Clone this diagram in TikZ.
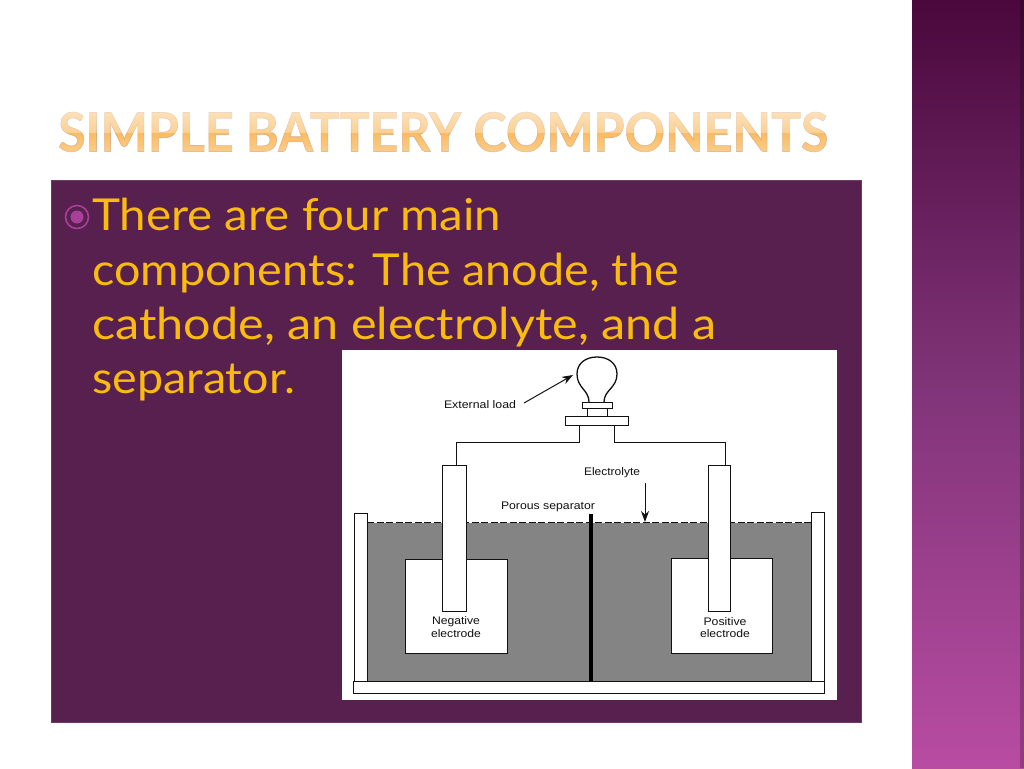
\documentclass[tikz,border=0pt]{standalone}
\usepackage{fontspec}
\usepackage{graphicx}
\usetikzlibrary{fadings,arrows.meta}
\setmainfont{Lato}
\newfontfamily\labelfont{Liberation Sans}
\newfontfamily\titlefont{Lato}
\definecolor{panelc}{HTML}{57204F}
\definecolor{panelb}{HTML}{6E3A68}
\definecolor{bodyc}{HTML}{F9BB0E}
\definecolor{titlec}{HTML}{FBBB60}
\definecolor{bulletc}{HTML}{A8409A}
\definecolor{grayc}{HTML}{848484}
\definecolor{inkc}{HTML}{111111}
\definecolor{sidetop}{HTML}{4A083C}
\definecolor{sidemid}{HTML}{803478}
\definecolor{sidebot}{HTML}{B84CA2}
\newcommand{\fitw}[2]{\resizebox{#1pt}{\height}{#2}}
\tikzfading[name=titletop, top color=transparent!40, bottom color=transparent!68]
\tikzfading[name=titlebot, top color=transparent!100, bottom color=transparent!68]
\tikzset{
  x=1pt,y=-1pt,
  part/.style={draw=inkc,line width=1pt,fill=white,inner sep=0pt,outer sep=0pt,anchor=north west},
  wire/.style={draw=inkc,line width=1pt},
  pointer/.style={draw=inkc,line width=1pt,-{Stealth[length=11pt,width=8pt]}},
  bodyline/.style={anchor=base west,inner sep=0pt,text=bodyc,font=\fontsize{44}{44}\selectfont},
  dlabel/.style={inner sep=0pt,text=inkc,font=\labelfont\fontsize{11}{11}\selectfont},
}
\begin{document}
\begin{tikzpicture}
\useasboundingbox (0,0) rectangle (1024,768);
\fill[white] (0,0) rectangle (1024,768);
% sidebar
\shade[top color=sidetop,bottom color=sidebot,middle color=sidemid] (912,0) rectangle (1024,768);
\fill[black,opacity=.2] (1020,0) rectangle (1024,768);
% title
\node[anchor=base west,inner sep=0pt,text=titlec] (title) at (58,151.5)
  {\fitw{770}{\special{pdf:code 2 Tr 0.6 w 0.84 0.66 0.48 RG}\titlefont\bfseries\fontsize{54}{54}\selectfont SIMPLE BATTERY COMPONENTS\special{pdf:code 0 Tr}}};
\fill[white,path fading=titletop] (50,108) rectangle (840,132.5);
\fill[white,path fading=titlebot] (50,132.5) rectangle (840,156);
% panel
\node[draw=panelb,fill=panelc,line width=0.8pt,inner sep=0pt,outer sep=0pt,anchor=north west,minimum width=810.5pt,minimum height=542.5pt] (panel) at (51,180) {};
% bullet
\node[circle,draw=bulletc,line width=1.6pt,fill=panelc,minimum size=23pt,inner sep=0pt] (bulletring) at (77,217) {};
\node[circle,fill=bulletc,minimum size=13pt,inner sep=0pt] (bulletdot) at (77,217) {};
% body text
\node[bodyline] (l1) at (92,230.5) {\fitw{409}{There are four main}};
\node[bodyline] (l2) at (92,285.5) {\fitw{587}{components: The anode, the}};
\node[bodyline] (l3) at (92,339.5) {\fitw{624}{cathode, an electrolyte, and a}};
\node[bodyline] (l4) at (92,393.5) {\fitw{203}{separator.}};
% figure
\node[fill=white,inner sep=0pt,outer sep=0pt,anchor=north west,minimum width=495pt,minimum height=350pt] (figure) at (342,350) {};
\node[fill=grayc,inner sep=0pt,outer sep=0pt,anchor=north west,minimum width=444pt,minimum height=159pt] (electrolyte) at (367,522) {};
\draw[white,line width=1pt] (electrolyte.north west) -- (electrolyte.north east);
\draw[inkc,line width=1pt,dash pattern=on 7pt off 2.5pt] (electrolyte.north west) -- (electrolyte.north east);
\node[part,minimum width=13pt,minimum height=168pt] (wallL) at (354,513) {};
\node[part,minimum width=13pt,minimum height=169pt] (wallR) at (811,512) {};
\node[part,minimum width=471pt,minimum height=12pt] (tray) at (353,681) {};
\node[fill=black,inner sep=0pt,outer sep=0pt,anchor=north west,minimum width=4pt,minimum height=167pt] (separator) at (589,514) {};
\node[part,minimum width=102pt,minimum height=94pt] (elecL) at (405,559) {};
\node[part,minimum width=101pt,minimum height=95pt] (elecR) at (671,558) {};
\node[part,minimum width=24pt,minimum height=146pt] (rodL) at (442,465) {};
\node[part,minimum width=22pt,minimum height=146pt] (rodR) at (708,465) {};
% bulb
\node[part,minimum width=63pt,minimum height=9pt] (base) at (565,416) {};
\node[part,minimum width=20pt,minimum height=8pt] (socket) at (587,408) {};
\node[part,minimum width=30pt,minimum height=6pt] (collar) at (582,402) {};
\coordinate (bulbL) at (589,402);
\coordinate (bulbR) at (604,402);
\draw[draw=inkc,line width=1.3pt] (bulbL) .. controls (589,390) and (577,388) .. (577,374) .. controls (577,363) and (586,357) .. (597,357) .. controls (608,357) and (617,363) .. (617,374) .. controls (617,388) and (604,390) .. (bulbR);
% wires
\coordinate (wireLs) at (579,425);
\coordinate (wireRs) at (614,425);
\coordinate (jL) at (456,442);
\coordinate (jR) at (725,442);
\draw[wire] (wireLs) |- (jL) -- (jL |- rodL.north);
\draw[wire] (wireRs) |- (jR) -- (jR |- rodR.north);
% labels
\node[dlabel] (lblLoad) at (480,405) {\fitw{72}{External load}};
\node[dlabel] (lblElec) at (612,473) {\fitw{56}{Electrolyte}};
\node[dlabel] (lblSep) at (548,507) {\fitw{94}{Porous separator}};
\node[dlabel] (lblN1) at (456,622) {\fitw{48}{Negative}};
\node[dlabel] (lblN2) at (456,634) {\fitw{50}{electrode}};
\node[dlabel] (lblP1) at (725,622) {\fitw{43}{Positive}};
\node[dlabel] (lblP2) at (725,634) {\fitw{50}{electrode}};
% pointers
\coordinate (bulbPt) at (573,375);
\coordinate (loadTail) at (524,403);
\coordinate (elecTail) at (645,483);
\coordinate (elecHead) at (645,522);
\draw[pointer] (loadTail) -- (bulbPt);
\draw[pointer] (elecTail) -- (elecHead);
\end{tikzpicture}
\end{document}
